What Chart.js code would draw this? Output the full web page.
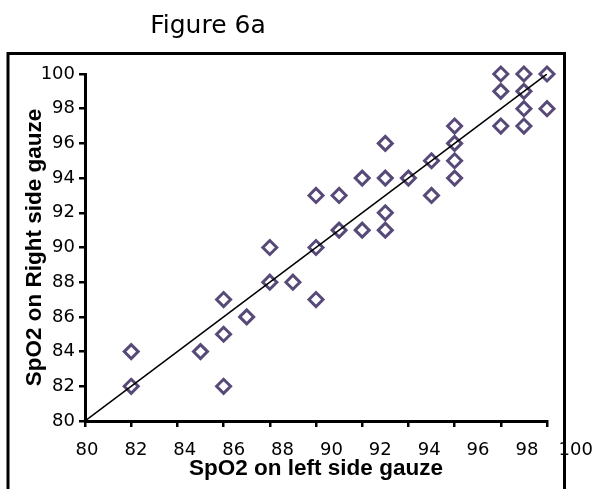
<!DOCTYPE html>
<html>
<head>
<meta charset="utf-8">
<script src="https://cdn.jsdelivr.net/npm/chart.js@4/dist/chart.umd.min.js"></script>
<style>
  body { margin: 0; background: #fff; }
  #wrap { position: relative; width: 595px; height: 489px; }
  #title { position: absolute; left: 0; top: 10px; width: 416px; text-align: center;
           font: 25px "DejaVu Sans", sans-serif; color: #000; }
  canvas { position: absolute; left: 0; top: 0; }
</style>
</head>
<body>
<div id="wrap">
  <canvas id="chart" width="595" height="489"></canvas>
  <div id="title">Figure 6a</div>
</div>
<script>
// SpO2 readings, left gauze (x) vs right gauze (y)
var leftSide  = [82, 82, 85, 86, 86, 86, 87, 88, 88, 89, 90, 90, 90, 91, 91, 92, 92, 93, 93, 93, 93, 94, 95, 95, 96, 96, 96, 96, 98, 98, 98, 99, 99, 99, 99, 100, 100];
var rightSide = [84, 82, 84, 87, 85, 82, 86, 90, 88, 88, 93, 90, 87, 93, 91, 94, 91, 96, 94, 92, 91, 94, 95, 93, 97, 96, 95, 94, 100, 99, 97, 100, 99, 98, 97, 100, 98];
var lineX = [80, 100];
var lineY = [80, 100];
var axisMin = 80, axisMax = 100, axisStep = 2;

var points = leftSide.map(function(v, i){ return {x: v, y: rightSide[i]}; });
var linePts = lineX.map(function(v, i){ return {x: v, y: lineY[i]}; });

var framePlugin = {
  id: 'frame',
  beforeDraw: function(chart){
    var ctx = chart.ctx;
    ctx.save();
    ctx.strokeStyle = '#000';
    ctx.lineWidth = 3;
    ctx.strokeRect(8, 53.5, 556.5, 460);
    ctx.restore();
    // the original's x labels are spaced a bit wider than its ticks
    var sx = chart.scales.x;
    sx.getLabelItems().forEach(function(item){
      var t = item.options.translation;
      if (!item._moved) { t[0] = sx.left + 2 + (t[0] - sx.left) * 1.058; item._moved = true; }
    });
  }
};

var tickFont = {family: '"DejaVu Sans", sans-serif', size: 18};
var titleFont = {family: '"Liberation Sans", Arial, sans-serif', size: 22.5, weight: 'bold'};

new Chart('chart', {
  type: 'scatter',
  data: {
    datasets: [{
      type: 'line',
      data: linePts,
      borderColor: '#000',
      borderWidth: 1.5,
      pointRadius: 0,
      order: 0
    }, {
      data: points,
      pointStyle: 'rectRot',
      pointRadius: 7,
      borderWidth: 3,
      borderColor: '#584a78',
      backgroundColor: 'rgba(0,0,0,0)',
      clip: false,
      order: 1
    }]
  },
  options: {
    responsive: false,
    animation: false,
    layout: { padding: {top: 74, right: 48, left: 0, bottom: 0} },
    plugins: {
      legend: { display: false },
      tooltip: { enabled: false }
    },
    scales: {
      x: {
        type: 'linear',
        min: axisMin, max: axisMax,
        afterFit: function(s){ s.height = 68; },
        grid: { drawOnChartArea: false, color: '#000', tickLength: 6, lineWidth: 2.5 },
        border: { color: '#000', width: 3 },
        ticks: { stepSize: axisStep, color: '#000', font: tickFont, padding: 13, maxRotation: 0 },
        title: { display: true, text: 'SpO2 on left side gauze', color: '#000', font: titleFont, padding: {top: 0, bottom: 7} }
      },
      y: {
        min: axisMin, max: axisMax,
        afterFit: function(s){ s.width = 85; },
        grid: { drawOnChartArea: false, color: '#000', tickLength: 6, lineWidth: 2.5 },
        border: { color: '#000', width: 3 },
        ticks: { stepSize: axisStep, color: '#000', font: tickFont, padding: 4 },
        title: { display: true, text: 'SpO2 on Right side gauze', color: '#000', font: titleFont, padding: {top: 21, bottom: 0} }
      }
    }
  },
  plugins: [framePlugin]
});
</script>
</body>
</html>
